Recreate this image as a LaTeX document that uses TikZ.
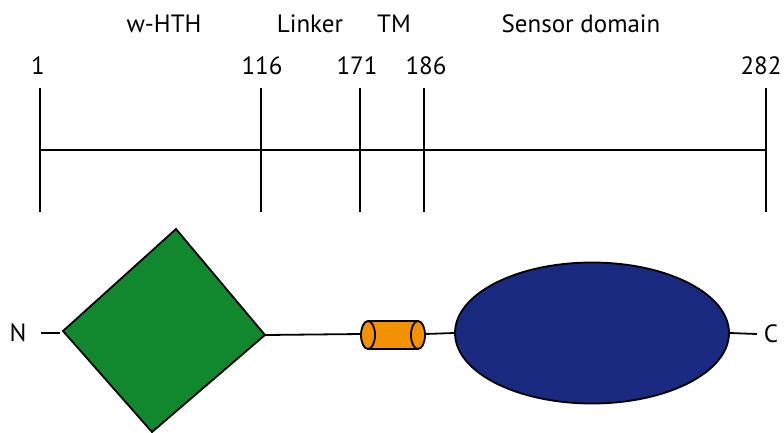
\documentclass[tikz,border=0pt]{standalone}
\usepackage{fontspec}
\setmainfont{PT Sans}
\usetikzlibrary{shapes.geometric}
\definecolor{hthgreen}{HTML}{12882E}
\definecolor{sensorblue}{HTML}{1A2A80}
\definecolor{tmorange}{HTML}{F39200}
\begin{document}
\begin{tikzpicture}[x=1pt,y=-1pt,line width=1.8pt,
  lbl/.style={font=\fontsize{25}{29}\selectfont,inner sep=0pt,anchor=center},
  tick/.style={line width=1.8pt},
  conn/.style={line width=1.8pt}]
\useasboundingbox (0,0) rectangle (784,432);
% ruler
\foreach \n/\x in {a/40,b/261,c/360,d/424,e/766}{
  \coordinate (\n top) at (\x,88);
  \coordinate (\n bot) at (\x,212);
  \coordinate (\n mid) at (\x,150);
  \draw[tick] (\n top) -- (\n bot);
}
\draw[tick] (amid) -- (emid);
% numbers
\node[lbl] (n1) at (38,66) {1};
\node[lbl] (n116) at (262,66) {116};
\node[lbl] (n171) at (357,66) {171};
\node[lbl] (n186) at (426,66) {186};
\node[lbl] (n282) at (761,66) {282};
% domain names
\node[lbl] (lhth) at (164,24) {w-HTH};
\node[lbl] (llink) at (310,24) {Linker};
\node[lbl] (ltm) at (394,24) {TM};
\node[lbl] (lsens) at (581,24) {Sensor domain};
% protein
\node[lbl] (N) at (18,333) {N};
\node[lbl] (C) at (771,334) {C};
\coordinate (Nend) at (41,333);
\coordinate (dL) at (63,331);
\coordinate (dT) at (176,229);
\coordinate (dR) at (265,335);
\coordinate (dB) at (152,432);
\fill[hthgreen] (dL) -- (dT) -- (dR) -- (dB) -- cycle;
\draw[line join=miter] (dL) -- (dT) -- (dR) -- (dB) -- cycle;
\draw[conn] (Nend) -- (60,333);
% TM cylinder
\coordinate (tmL) at (368,335);
\coordinate (tmR) at (418,335);
\draw[conn] (dR) -- (361,334);
\fill[tmorange] (368,321) rectangle (418,349);
\draw[fill=tmorange] (tmR) ellipse[x radius=7,y radius=14];
\draw (368,321) -- (418,321);
\draw (368,349) -- (418,349);
\draw[fill=tmorange] (tmL) ellipse[x radius=7,y radius=14];
\node[draw,fill=sensorblue,ellipse,minimum width=274pt,minimum height=141pt,inner sep=0pt,line width=1.8pt] (sens) at (592,333) {};
\draw[conn] (425,334) -- (sens.west);
\draw[conn] (sens.east) -- (757,334);
\end{tikzpicture}
\end{document}
